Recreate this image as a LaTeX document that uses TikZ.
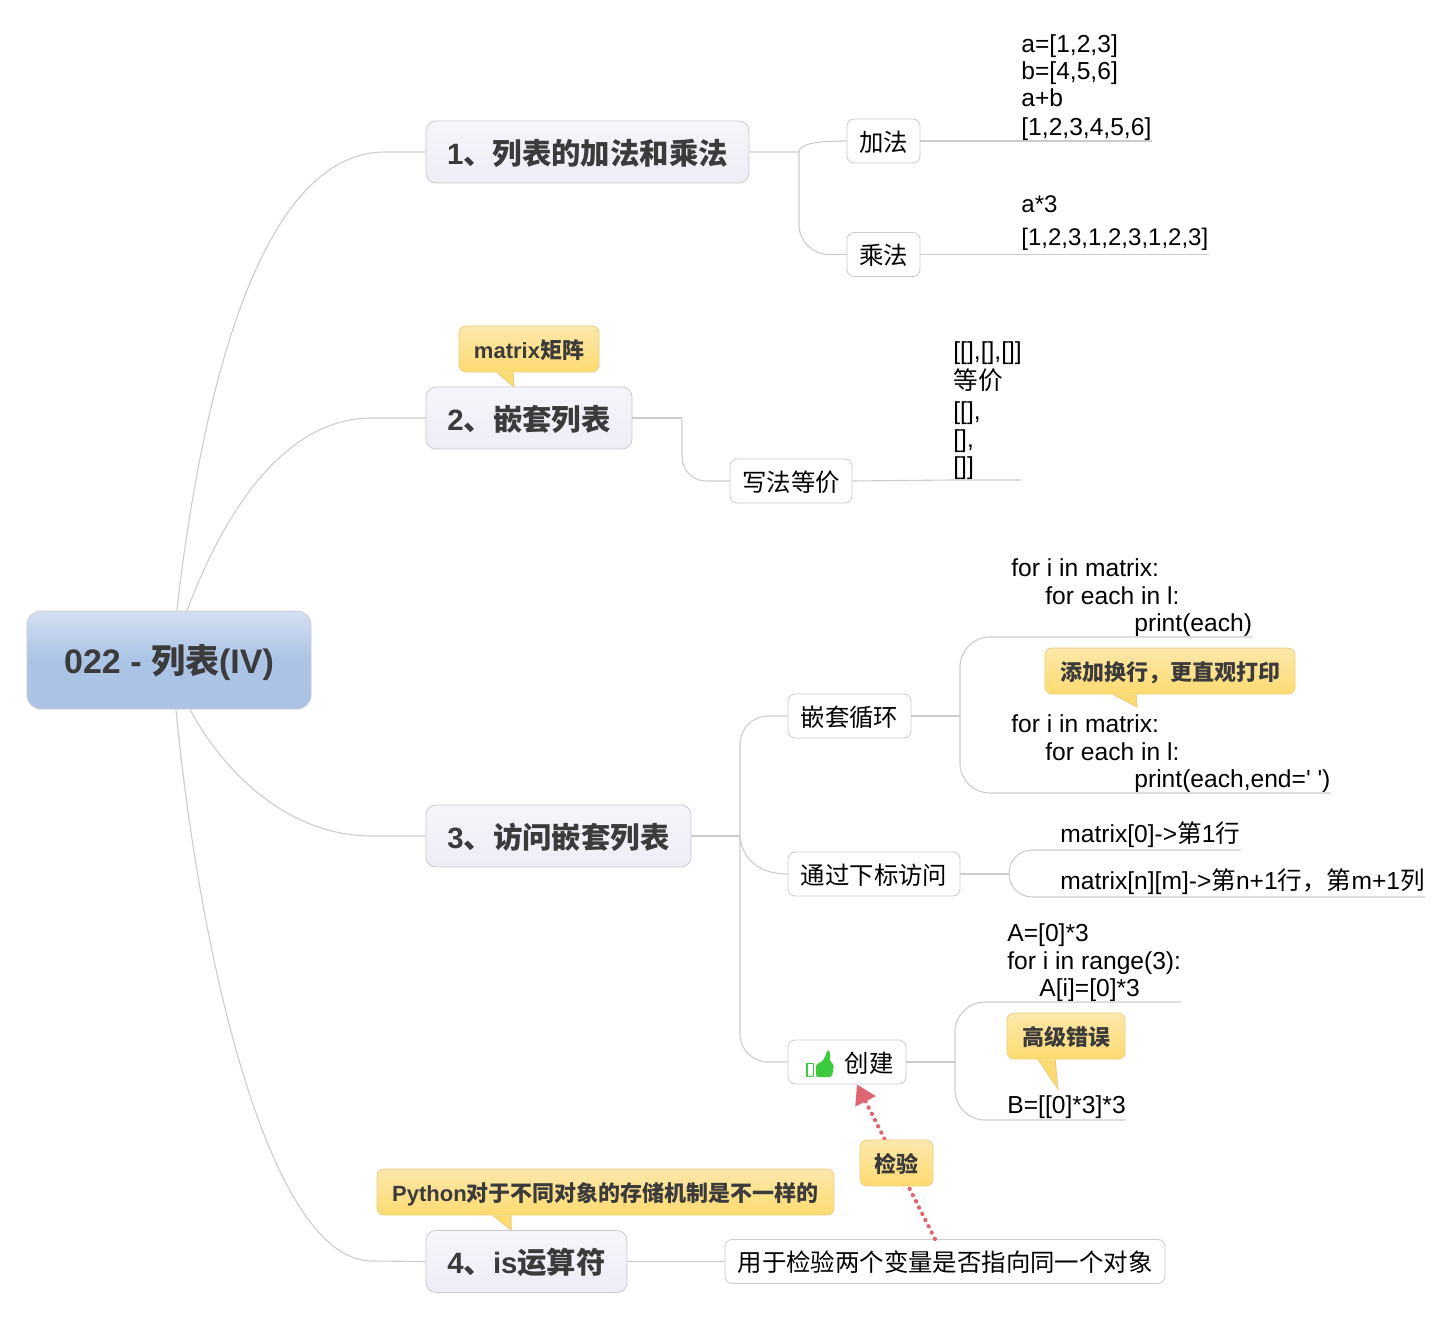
\documentclass[tikz,border=0pt]{standalone}
\usepackage{fontspec}
\setmainfont{Liberation Sans}
\newfontfamily\cjkfont{Noto Sans CJK SC}
\usepackage{xcolor}
\usetikzlibrary{arrows.meta}
\definecolor{linkgray}{HTML}{CCCCCC}
\definecolor{boxgray}{HTML}{CACACF}
\definecolor{rootTop}{HTML}{D3E0F3}
\definecolor{rootBot}{HTML}{ABC3E5}
\definecolor{topicTop}{HTML}{F5F6FB}
\definecolor{topicBot}{HTML}{EDEEF6}
\definecolor{calloutTop}{HTML}{FDE8AC}
\definecolor{calloutBot}{HTML}{FEDB70}
\definecolor{calloutEdge}{HTML}{E9CE80}
\definecolor{inkdark}{HTML}{3B3B3B}
\definecolor{checkred}{HTML}{DD6672}
\definecolor{thumbgreen}{HTML}{3CCB3C}
\tikzstyle{link}=[draw=linkgray, line width=.55pt]
\tikzstyle{rootbox}=[draw=boxgray, rounded corners=7pt, top color=rootTop, bottom color=rootBot, middle color=rootBot, inner sep=0pt, text height=15.5pt, text depth=2.5pt, text=inkdark, font=\bfseries\fontsize{17}{20}\selectfont]
\tikzstyle{topic}=[draw=boxgray, rounded corners=5pt, top color=topicTop, bottom color=topicBot, inner sep=0pt, minimum height=31pt, text height=14pt, text depth=1.8pt, text=inkdark, font=\bfseries\fontsize{14.7}{17}\selectfont]
\tikzstyle{subbox}=[draw=boxgray, fill=white, rounded corners=3.5pt, inner sep=0pt, minimum height=22pt, text height=12pt, text depth=1.7pt, font=\fontsize{12.2}{14}\selectfont]
\tikzstyle{callout}=[draw=calloutEdge, rounded corners=3.5pt, top color=calloutTop, bottom color=calloutBot, inner sep=0pt, minimum height=23pt, text height=11pt, text depth=1.6pt, text=inkdark, font=\bfseries\fontsize{11}{13}\selectfont]
\tikzstyle{note}=[anchor=south west, inner xsep=0pt, inner ysep=.4pt, align=left, text depth=2.3pt, font=\fontsize{12.3}{13.6}\selectfont]
\newcommand{\zh}[1]{{\cjkfont #1}}
\newcommand{\noteBrace}[5]{
	\draw[link] (#1.east) -- (#1.east -| #2,0);
	\draw[link, rounded corners=#5] (#3.south east) -- (#3.south east -| #2,0) -- (#4.south east -| #2,0) -- (#4.south east);
}
\newcommand{\calloutTail}[4]{
	\fill[calloutBot] (#1.south -| #2,0) -- (#1.south -| #3,0) -- (#4) -- cycle;
	\draw[calloutEdge, line width=.5pt] (#1.south -| #2,0) -- (#4) -- (#1.south -| #3,0);
}
\begin{document}
\begin{tikzpicture}[x=.5pt, y=-.5pt]
	\useasboundingbox (0,0) rectangle (1452,1321);

	\node[rootbox, minimum width=142pt, minimum height=49pt] (root) at (169,660) {022 - \zh{列表}(IV)};
	\node[topic, minimum width=161.5pt] (topicA) at (587.5,152) {1\zh{、列表的加法和乘法}};
	\node[topic, minimum width=103pt] (topicB) at (529,418) {2\zh{、嵌套列表}};
	\node[topic, minimum width=132.5pt] (topicC) at (558.5,836) {3\zh{、访问嵌套列表}};
	\node[topic, minimum width=100.5pt] (topicD) at (526.5,1261.5) {4\zh{、}is\zh{运算符}};

	\draw[link] (root.81) .. controls (208,340) and (275,152) .. (385,152) -- (topicA.west);
	\draw[link] (root.70) .. controls (225,510) and (285,418) .. (372,418) -- (topicB.west);
	\draw[link] (root.-67) .. controls (225,775) and (290,836) .. (372,836) -- (topicC.west);
	\draw[link] (root.-82) .. controls (200,960) and (270,1261) .. (372,1261) -- (topicD.west);

	\node[subbox, minimum width=36.5pt] (add) at (883.5,141) {\zh{加法}};
	\node[subbox, minimum width=36.5pt] (mul) at (883.5,254.5) {\zh{乘法}};
	\node[subbox, minimum width=61pt] (same) at (791,481) {\zh{写法等价}};
	\node[subbox, minimum width=61.5pt] (loop) at (849.5,716) {\zh{嵌套循环}};
	\node[subbox, minimum width=86pt] (index) at (874,874) {\zh{通过下标访问}};
	\node[subbox, minimum width=59pt] (create) at (847,1062) {\hspace*{22pt}\zh{创建}};
	\node[subbox, minimum width=220pt] (usage) at (945,1261.5) {\zh{用于检验两个变量是否指向同一个对象}};

	\draw[link] (topicA.east) -- (799,152) .. controls (799,145) and (812,141) .. (add.west);
	\draw[link, rounded corners=15pt] (799,152) |- (mul.west);
	\draw[link] (topicB.east) -- (682,418);
	\draw[link, rounded corners=12pt] (682,418) |- (same.west);
	\draw[link] (topicC.east) -- (740,836);
	\draw[link, rounded corners=14pt] (loop.west) -| (740,1062) -- (create.west);
	\draw[link] (740,836) .. controls (742,860) and (760,874) .. (index.west);
	\draw[link] (topicD.east) -- (usage.west);

	\node[note] (sumText) at (1021,141) {a=[1,2,3]\\b=[4,5,6]\\a+b\\[.7pt][1,2,3,4,5,6]};
	\node[note, text depth=3.7pt, font=\fontsize{12}{13.6}\selectfont] (mulText) at (1021,254.5) {a*3\\[3pt][1,2,3,1,2,3,1,2,3]};
	\node[note] (sameText) at (953,480) {[[],[],[]]\\[1.6pt]\zh{等价}\\[1.6pt][[],\\{}[],\\{}[]]};
	\node[note] (loopA) at (1011,637) {for i in matrix:\\\hspace*{17pt}for each in l:\\\hspace*{61.5pt}print(each)};
	\node[note] (loopB) at (1011,793) {for i in matrix:\\\hspace*{17pt}for each in l:\\\hspace*{61.5pt}print(each,end=\textquotesingle{} \textquotesingle)};
	\node[note, text depth=3.2pt] (rowText) at (1060,850) {matrix[0]->\zh{第}1\zh{行}};
	\node[note, text depth=3.2pt] (cellText) at (1060,897) {matrix[n][m]->\zh{第}n+1\zh{行，第}m+1\zh{列}};
	\node[note] (wrongText) at (1007,1002) {A=[0]*3\\for i in range(3):\\\hspace*{16pt}A[i]=[0]*3};
	\node[note, text depth=2.7pt] (rightText) at (1007,1120) {B=[[0]*3]*3};

	\draw[link] (add.east) -- (sumText.south west) -- (sumText.south east);
	\draw[link] (mul.east) -- (mulText.south west) -- (mulText.south east);
	\draw[link] (same.east) -- (sameText.south west) -- (sameText.south east);
	\noteBrace{loop}{960}{loopA}{loopB}{15pt}
	\noteBrace{index}{1009}{rowText}{cellText}{11.6pt}
	\noteBrace{create}{955}{wrongText}{rightText}{15pt}

	% thumb in front of the label
	\draw[thumbgreen, line width=.9pt] (807,1063.5) rectangle (813.5,1076.5);
	\fill[thumbgreen, rounded corners=1pt] (816,1064) -- (822,1062) -- (826,1055) -- (827,1050) -- (830,1051) -- (830,1062) -- (834,1064) -- (832,1077) -- (816,1077) -- cycle;

	% dotted arrow runs under its label
	\draw[checkred, line width=2pt, line cap=round, dash pattern=on .3pt off 3.2pt, -{Triangle[length=9.5pt, width=11pt, fill=checkred]}] (usage.north -| 935,0) -- (create.south -| 857,0);
	\node[callout, minimum width=36.5pt] (check) at (896.5,1163) {\zh{检验}};

	\node[callout, minimum width=70pt] (matrixTip) at (529,349) {matrix\zh{矩阵}};
	\node[callout, minimum width=125pt] (lineTip) at (1170,671) {\zh{添加换行，更直观打印}};
	\node[callout, minimum width=59pt] (errorTip) at (1066,1036) {\zh{高级错误}};
	\node[callout, minimum width=228.5pt] (pythonTip) at (605.5,1192) {Python\zh{对于不同对象的存储机制是不一样的}};
	\calloutTail{matrixTip}{497}{513}{514,387}
	\calloutTail{lineTip}{1113}{1136}{1137,707}
	\calloutTail{errorTip}{1038}{1055}{1058,1089}
	\calloutTail{pythonTip}{493}{511}{511,1230}
\end{tikzpicture}
\end{document}
